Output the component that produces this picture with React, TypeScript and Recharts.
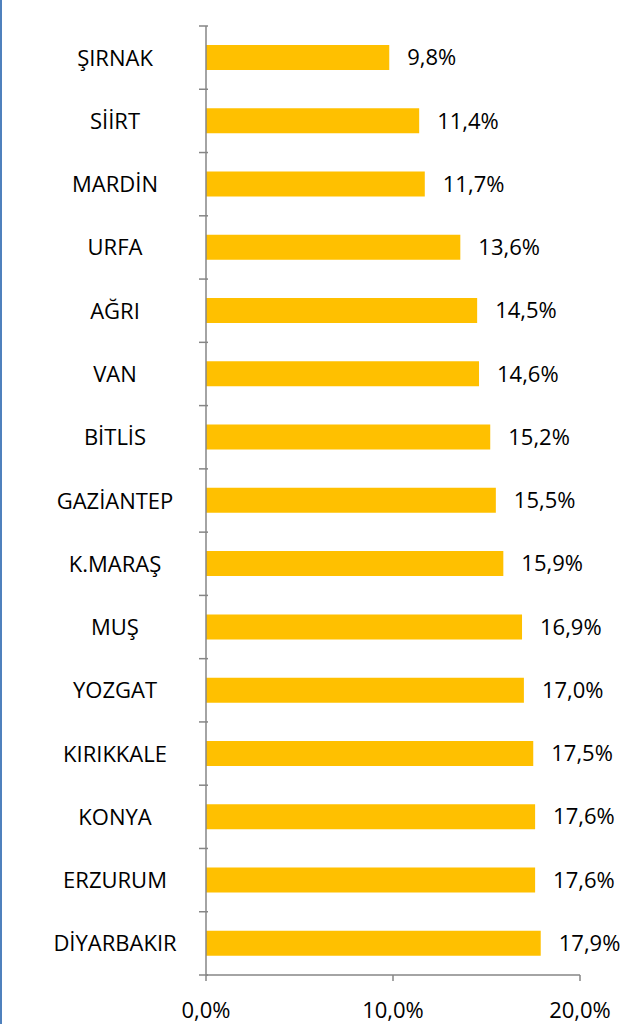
import React from 'react';
import { BarChart, Bar, XAxis, YAxis, LabelList } from 'recharts';

const provinces = ['ŞIRNAK', 'SİİRT', 'MARDİN', 'URFA', 'AĞRI', 'VAN', 'BİTLİS', 'GAZİANTEP', 'K.MARAŞ', 'MUŞ', 'YOZGAT', 'KIRIKKALE', 'KONYA', 'ERZURUM', 'DİYARBAKIR'];
const shares = [9.8, 11.4, 11.7, 13.6, 14.5, 14.6, 15.2, 15.5, 15.9, 16.9, 17.0, 17.5, 17.6, 17.6, 17.9];
const xTicks = [0, 10, 20];

const data = provinces.map((name, i) => ({ name, value: shares[i] }));

const W = 637;
const H = 1024;
const X_AXIS_H = 49;
const M = { top: 26, right: 57, bottom: 0, left: 0 };
const Y_AXIS_W = 206;
const LABEL_CENTER = 115;
const BAND = (H - M.top - X_AXIS_H) / provinces.length;
const FONT = '"Open Sans", sans-serif';
const FS = 22;
const AXIS_COLOR = '#868686';

const fmt = (v: number) => v.toFixed(1).replace('.', ',') + '%';

const YTick = (props: any) => {
  const { x, y, payload, index } = props;
  const half = BAND / 2;
  return (
    <g>
      <line x1={x + 10 - 9} x2={x + 10} y1={y - half} y2={y - half} stroke={AXIS_COLOR} strokeWidth={1.5} />
      {index === provinces.length - 1 && (
        <line x1={x + 10 - 9} x2={x + 10} y1={y + half} y2={y + half} stroke={AXIS_COLOR} strokeWidth={1.5} />
      )}
      <text x={LABEL_CENTER} y={y} dy={8} textAnchor="middle" fontFamily={FONT} fontSize={FS} fill="#000">
        {payload.value}
      </text>
    </g>
  );
};

const XTick = (props: any) => {
  const { x, y, payload } = props;
  return (
    <text x={x} y={y} dy={35} textAnchor="middle" fontFamily={FONT} fontSize={FS} fill="#000">
      {fmt(Number(payload.value))}
    </text>
  );
};

export default function App() {
  return (
    <div style={{ position: 'absolute', top: 0, left: 0, width: W, height: H, background: '#fff' }}>
      <div style={{ position: 'absolute', top: 0, left: 0, width: 2, height: H, background: '#4F81BD' }} />
      <BarChart
        width={W}
        height={H}
        data={data}
        layout="vertical"
        margin={M}
        barCategoryGap="30%"
      >
        <XAxis
          type="number"
          domain={[0, 20]}
          ticks={xTicks}
          height={X_AXIS_H}
          axisLine={{ stroke: AXIS_COLOR, strokeWidth: 1.5 }}
          tickLine={{ stroke: AXIS_COLOR, strokeWidth: 1.5 }}
          tickSize={6}
          tick={<XTick />}
          interval={0}
        />
        <YAxis
          type="category"
          dataKey="name"
          width={Y_AXIS_W}
          axisLine={{ stroke: AXIS_COLOR, strokeWidth: 1.5 }}
          tickLine={false}
          tick={<YTick />}
          interval={0}
        />
        <Bar dataKey="value" fill="#FFC000" isAnimationActive={false}>
          <LabelList
            dataKey="value"
            position="right"
            offset={18}
            formatter={(v: any) => fmt(Number(v))}
            style={{ fontFamily: FONT, fontSize: FS, fill: '#000' }}
          />
        </Bar>
      </BarChart>
    </div>
  );
}
